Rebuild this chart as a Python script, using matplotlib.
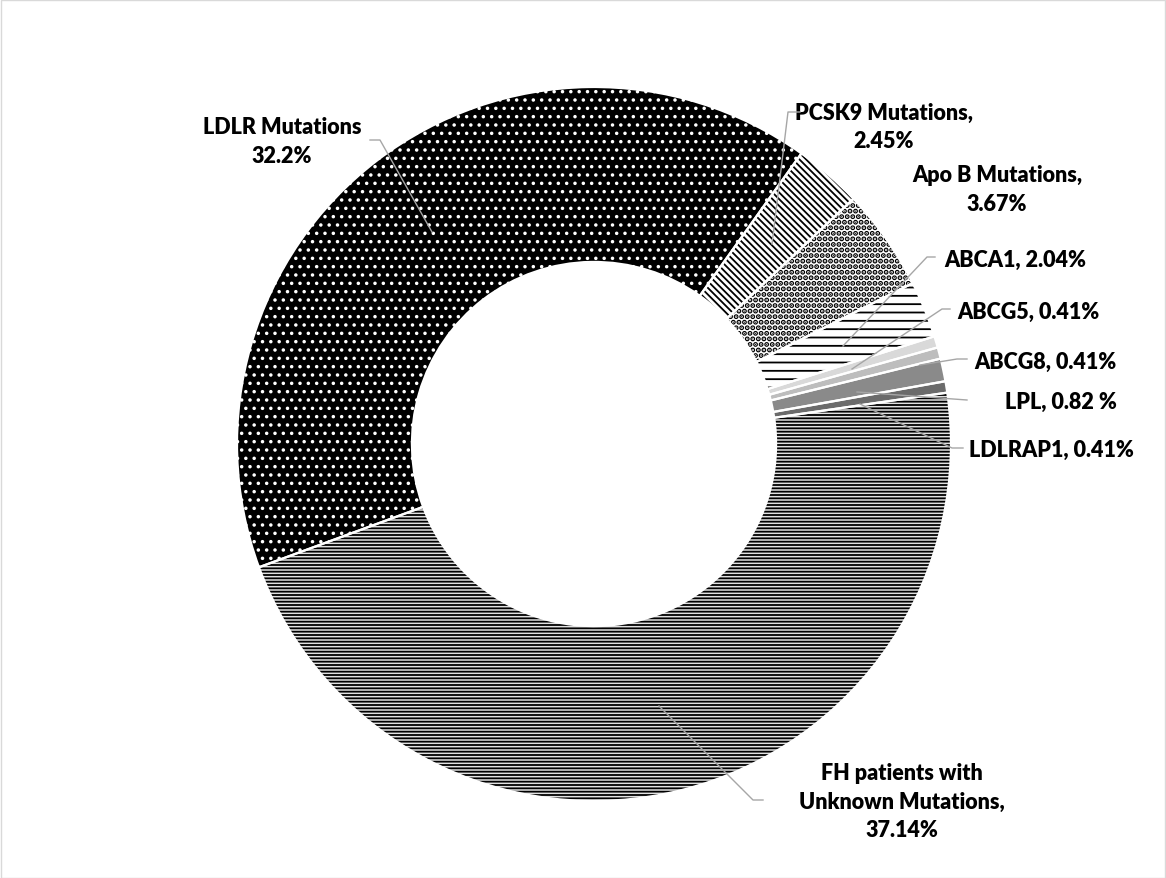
import matplotlib
matplotlib.use("Agg")
import matplotlib.pyplot as plt
from matplotlib.patches import Rectangle

# slice data (percent as printed on the chart, clockwise order)
names = ["LDLR Mutations", "PCSK9 Mutations", "Apo B Mutations", "ABCA1", "ABCG5",
         "ABCG8", "LPL", "LDLRAP1", "FH patients with Unknown Mutations"]
values = [32.2, 2.45, 3.67, 2.04, 0.41, 0.41, 0.82, 0.41, 37.14]
label_texts = [
    "LDLR Mutations\n32.2%",
    "PCSK9 Mutations,\n2.45%",
    "Apo B Mutations,\n3.67%",
    "ABCA1, 2.04%",
    "ABCG5, 0.41%",
    "ABCG8, 0.41%",
    "LPL, 0.82 %",
    "LDLRAP1, 0.41%",
    "FH patients with\nUnknown Mutations,\n37.14%",
]

W, H, DPI = 1166, 879, 100
CX, CY, R = 594, 445, 357  # pie centre / radius in pixels

faces = ["black", "white", "white", "white", "#d9d9d9", "#bdbdbd", "#8a8a8a", "#6b6b6b", "#e2e2e2"]
hatch_cols = ["white", "black", "black", "black", "#d9d9d9", "#bdbdbd", "#8a8a8a", "#6b6b6b", "black"]
hatches = ["..", "\\\\\\\\\\", "...", "--", None, None, None, None, "-----"]
hatch_lw = [1.3, 1.3, 2.6, 1.3, 1.3, 1.3, 1.3, 1.3, 1.3]

plt.rcParams["font.family"] = ["Lato", "DejaVu Sans"]
plt.rcParams["hatch.linewidth"] = 1.3

fig = plt.figure(figsize=(W / DPI, H / DPI), dpi=DPI)
fig.patches.append(Rectangle((0.5 / W, 0.5 / H), 1 - 1.5 / W, 1 - 1.5 / H, transform=fig.transFigure,
                             fill=False, edgecolor="#d9d9d9", linewidth=1))
ax = fig.add_axes([(CX - R) / W, (H - CY - R) / H, 2 * R / W, 2 * R / H])

ring = dict(width=0.49, edgecolor="white", linewidth=0)
wedges, _ = ax.pie(values, radius=1, startangle=200.2, counterclock=False, wedgeprops=ring)
for w, fc, hc, h, hl in zip(wedges, faces, hatch_cols, hatches, hatch_lw):
    w.set_facecolor(fc)
    w.set_edgecolor(hc)
    w.set_hatch(h)
    w.set_linewidth(0)
    if hasattr(w, "set_hatch_linewidth"):
        w.set_hatch_linewidth(hl)
# white separators on top
ax.pie(values, radius=1, startangle=200.2, counterclock=False,
       wedgeprops=dict(width=0.49, facecolor="none", edgecolor="white", linewidth=1.6))
ax.set_xlim(-1, 1)
ax.set_ylim(-1, 1)
ax.set_aspect("equal")
ax.axis("off")


def d(px, py):
    return ((px - CX) / R, (CY - py) / R)


# label text centre, leader path (pixels)
label_pos = [(282, 142), (884, 127), (997, 190), (1015, 260), (1028, 312),
             (1045, 362), (1061, 402), (1051, 450), (902, 802)]
leaders = [
    [(370, 141), (380, 141), (432, 233)],
    [(800, 113), (788, 113), (772, 245)],
    None,
    [(935, 258), (927, 258), (843, 347)],
    [(950, 310), (942, 310), (852, 370)],
    [(967, 360), (957, 360), (920, 366)],
    [(967, 401), (857, 393)],
    [(963, 449), (952, 449), (860, 405)],
    [(763, 801), (753, 801), (659, 707)],
]

for txt, (px, py), path in zip(label_texts, label_pos, leaders):
    x, y = d(px, py)
    ax.text(x, y, txt, ha="center", va="center", fontsize=15.5, fontweight="heavy",
            linespacing=1.42, color="black", clip_on=False)
    if path:
        xs, ys = zip(*[d(a, b) for a, b in path])
        ax.plot(xs, ys, color="#a6a6a6", linewidth=1, clip_on=False, zorder=5)

fig.savefig("out.png", dpi=DPI)
